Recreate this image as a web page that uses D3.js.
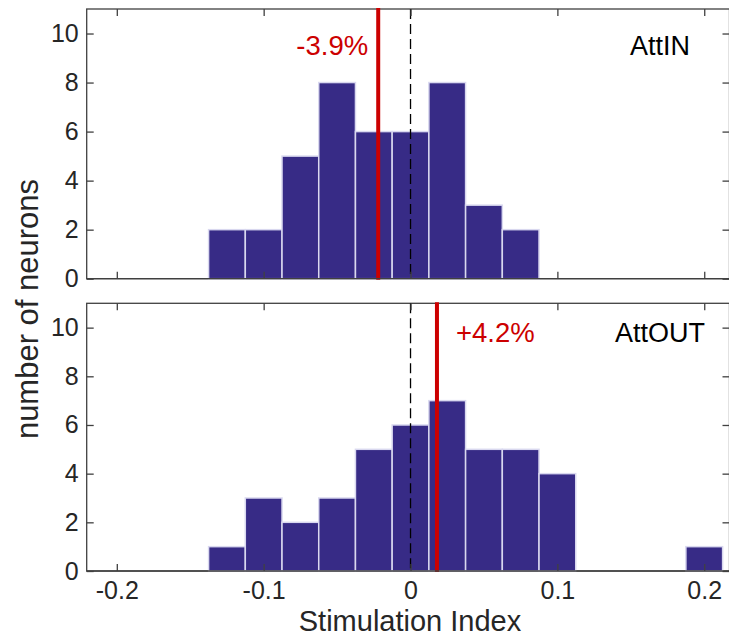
<!DOCTYPE html>
<html>
<head>
<meta charset="utf-8">
<script src="https://cdn.jsdelivr.net/npm/d3@7"></script>
<style>
  html, body { margin: 0; padding: 0; background: #ffffff; }
  svg { display: block; }
  text { font-family: "Liberation Sans", Arial, Helvetica, sans-serif; }
</style>
</head>
<body>
<svg id="chart" width="729" height="637"></svg>
<script>
// ---- data ----
const binCenters = [-0.125, -0.1, -0.075, -0.05, -0.025, 0, 0.025, 0.05, 0.075, 0.1, 0.125, 0.15, 0.175, 0.2];
const binWidth = 0.025;
const attInCounts  = [2, 2, 5, 8, 6, 6, 8, 3, 2, 0, 0, 0, 0, 0];
const attOutCounts = [1, 3, 2, 3, 5, 6, 7, 5, 5, 4, 0, 0, 0, 1];
const panelNames = ["AttIN", "AttOUT"];
const markerValues = [-0.022, 0.018];
const markerLabels = ["-3.9%", "+4.2%"];
const xTicks = [-0.2, -0.1, 0, 0.1, 0.2];
const yTicks = [0, 2, 4, 6, 8, 10];
const xLabel = "Stimulation Index";
const yLabel = "number of neurons";

// ---- layout ----
const svg = d3.select("#chart");
const left = 86.7, right = 729.5;
const panels = [
  { top: 9, bottom: 278.7, counts: attInCounts, name: panelNames[0], marker: markerValues[0], label: markerLabels[0], labelSide: "left", labelY: 55, nameY: 54.5 },
  { top: 303.3, bottom: 571, counts: attOutCounts, name: panelNames[1], marker: markerValues[1], label: markerLabels[1], labelSide: "right", labelY: 341.7, nameY: 341.7 }
];

const x = d3.scaleLinear().domain([-0.2205, 0.2172]).range([left, right]);
const axisColor = "#404040";
const textColor = "#262626";
const barColor = "#372b86";
const red = "#cc0000";

panels.forEach((p, i) => {
  const y = d3.scaleLinear().domain([0, 11]).range([p.bottom, p.top]);
  const g = svg.append("g");

  // box frame
  g.append("rect")
    .attr("x", left).attr("y", p.top)
    .attr("width", right - left).attr("height", p.bottom - p.top)
    .attr("fill", "none").attr("stroke", axisColor).attr("stroke-width", 1.3);

  // bars
  const data = binCenters.map((c, k) => ({ c, v: p.counts[k] })).filter(d => d.v > 0);
  g.selectAll("rect.bar").data(data).enter().append("rect")
    .attr("class", "bar")
    .attr("x", d => x(d.c - binWidth / 2))
    .attr("y", d => y(d.v))
    .attr("width", d => x(d.c + binWidth / 2) - x(d.c - binWidth / 2))
    .attr("height", d => y(0) - y(d.v))
    .attr("fill", barColor)
    .attr("stroke", "#d9d8ef")
    .attr("stroke-width", 1.5);

  // dashed zero line
  g.append("line")
    .attr("x1", x(0)).attr("x2", x(0))
    .attr("y1", p.top).attr("y2", p.bottom)
    .attr("stroke", "#000").attr("stroke-width", 1.3)
    .attr("stroke-dasharray", "10,5");

  // red marker line
  g.append("line")
    .attr("x1", x(p.marker)).attr("x2", x(p.marker))
    .attr("y1", p.top - 1).attr("y2", p.bottom + 1)
    .attr("stroke", red).attr("stroke-width", 4);

  // axes
  const yAxis = d3.axisLeft(y).tickValues(yTicks).tickSize(-7).tickPadding(8).tickFormat(d3.format("d"));
  const ya = g.append("g").attr("transform", `translate(${left},0)`).call(yAxis);
  const yaR = g.append("g").attr("transform", `translate(${right},0)`)
    .call(d3.axisRight(y).tickValues(yTicks).tickSize(-7).tickFormat(""));
  const xaB = g.append("g").attr("transform", `translate(0,${p.bottom})`)
    .call(d3.axisBottom(x).tickValues(xTicks).tickSize(-7).tickPadding(10)
      .tickFormat(i === 1 ? (d => d === 0 ? "0" : String(d)) : ""));
  const xaT = g.append("g").attr("transform", `translate(0,${p.top})`)
    .call(d3.axisTop(x).tickValues(xTicks).tickSize(-7).tickFormat(""));

  [ya, yaR, xaB, xaT].forEach(a => {
    a.select(".domain").remove();
    a.selectAll(".tick line").attr("stroke", axisColor).attr("stroke-width", 1.3);
    a.selectAll(".tick text").attr("fill", textColor).attr("font-size", 25)
      .attr("font-family", "'Liberation Sans', Arial, sans-serif");
  });

  // bottom axis line over bar edges
  g.append("line")
    .attr("x1", left).attr("x2", right)
    .attr("y1", p.bottom).attr("y2", p.bottom)
    .attr("stroke", axisColor).attr("stroke-width", 1.3);

  // marker label
  g.append("text")
    .attr("x", p.labelSide === "left" ? x(p.marker) - 10 : x(p.marker) + 19)
    .attr("y", p.labelY)
    .attr("text-anchor", p.labelSide === "left" ? "end" : "start")
    .attr("fill", red).attr("font-size", 27.5)
    .text(p.label);

  // panel name
  g.append("text")
    .attr("x", 660).attr("y", p.nameY)
    .attr("text-anchor", "middle")
    .attr("fill", "#000").attr("font-size", 27)
    .text(p.name);
});

// axis labels
svg.append("text")
  .attr("x", 410).attr("y", 630.5)
  .attr("text-anchor", "middle")
  .attr("fill", textColor).attr("font-size", 29)
  .text(xLabel);

svg.append("text")
  .attr("transform", `translate(38,309) rotate(-90)`)
  .attr("text-anchor", "middle")
  .attr("fill", textColor).attr("font-size", 31)
  .text(yLabel);
</script>
</body>
</html>
